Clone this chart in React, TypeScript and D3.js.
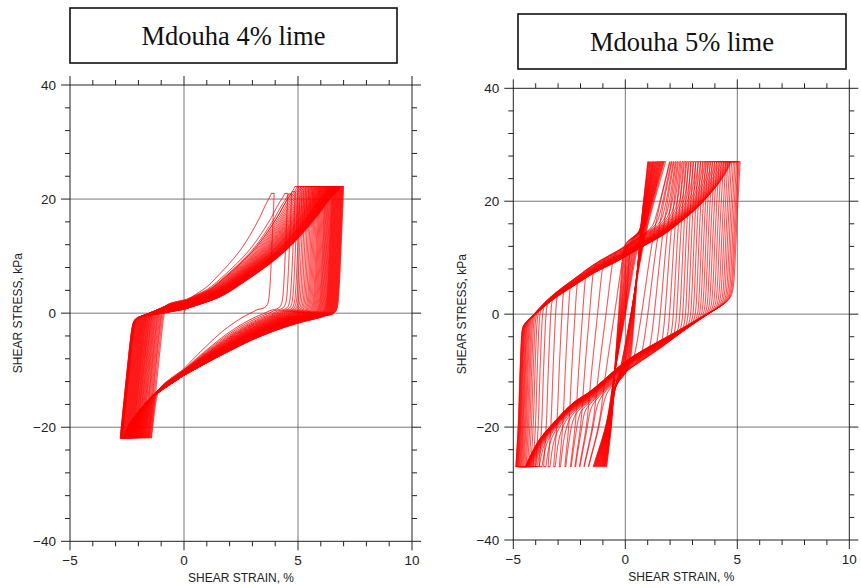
import React, { useMemo } from "react";
import * as d3 from "d3";

const W = 861;
const H = 588;

// ---------- shared axis definitions ----------
const xMajor = [-5, 0, 5, 10];
const yMajor = [-40, -20, 0, 20, 40];
const xMinor = [-4, -3, -2, -1, 1, 2, 3, 4, 6, 7, 8, 9];
const yMinor = [-36, -32, -28, -24, -16, -12, -8, -4, 4, 8, 12, 16, 24, 28, 32, 36];
const xGrid = [0, 5];
const yGrid = [-20, 0, 20];
const panelTitles = ["Mdouha 4% lime", "Mdouha 5% lime"];
const xTitle = "SHEAR STRAIN, %";
const yTitle = "SHEAR STRESS, kPa";

// ---------- Mdouha 4% lime: per-cycle peak strains (%) ----------
const rightPeak4 = [
  3.95, 4.55, 4.72, 4.88, 5.0, 5.1, 5.18, 5.26, 5.33, 5.4, 5.47, 5.53, 5.59, 5.65, 5.7, 5.75,
  5.8, 5.85, 5.9, 5.94, 5.98, 6.02, 6.06, 6.1, 6.14, 6.18, 6.21, 6.24, 6.27, 6.3, 6.33, 6.36,
  6.39, 6.42, 6.45, 6.48, 6.5, 6.52, 6.54, 6.56, 6.58, 6.6, 6.62, 6.64, 6.66, 6.68, 6.7, 6.72,
  6.74, 6.76, 6.78, 6.8, 6.82, 6.84, 6.86, 6.88, 6.9, 6.92, 6.94, 6.96, 6.98, 7.0,
];
const leftPeak4 = [
  -1.45, -1.5, -1.55, -1.58, -1.62, -1.66, -1.7, -1.73, -1.76, -1.8, -1.83, -1.86, -1.89, -1.92,
  -1.95, -1.98, -2.0, -2.03, -2.06, -2.08, -2.1, -2.13, -2.15, -2.17, -2.2, -2.22, -2.24, -2.26,
  -2.28, -2.3, -2.32, -2.34, -2.36, -2.38, -2.4, -2.42, -2.44, -2.46, -2.48, -2.5, -2.52, -2.54,
  -2.56, -2.58, -2.6, -2.62, -2.64, -2.66, -2.68, -2.7, -2.71, -2.72, -2.73, -2.74, -2.75, -2.76,
  -2.77, -2.78, -2.79, -2.8, -2.8, -2.81,
];
const firstPeakStress4 = [21.0, 21.0, 20.9, 21.3];
const steadyPeakStress4 = 22.2;
const troughStress4 = -21.9;
// branch shapes read from the loops (stress kPa -> strain %)
const upperNeck4 = [[-4, -7.0], [-2, -4.8], [-1, -3.6], [0, -2.4], [0.75, -1.1], [1.5, 0]];
const upperShape4 = [[0, 0], [0.1, 0.22], [0.21, 0.36], [0.47, 0.63], [0.75, 0.83], [0.9, 0.92], [1, 1]];
const lowerShape4 = [[-10.5, 1], [-6.5, 0.72], [-3.5, 0.48], [-1.2, 0.22], [0, 0]];
const lowerTail4 = [[-26, -3.6], [-22, -3.0], [-19.2, -2.5], [-14.6, -1.46], [-10.5, 0]];

// ---------- Mdouha 5% lime: per-cycle peak strains (%) ----------
const rightPeak5 = [
  0.98, 1.02, 1.07, 1.11, 1.16, 1.2, 1.24, 1.29, 1.33, 1.38, 1.42, 1.47, 1.51, 1.55, 1.6, 1.64,
  1.95, 2.05, 2.15, 2.25, 2.35, 2.46, 2.57, 2.68, 2.79, 2.9, 3.01, 3.12, 3.23, 3.34, 3.45, 3.56,
  3.66, 3.76, 3.86, 3.96, 4.06, 4.16, 4.26, 4.36, 4.46, 4.55, 4.64, 4.72, 4.8, 4.87, 4.94, 5.0,
  5.05, 5.1,
];
const leftPeak5 = [
  -0.84, -0.88, -0.92, -0.95, -0.99, -1.03, -1.07, -1.11, -1.15, -1.19, -1.23, -1.27, -1.31, -1.35,
  -1.39, -1.43, -1.65, -1.85, -2.05, -2.25, -2.45, -2.7, -2.95, -3.2, -3.45, -3.65, -3.85, -4.0,
  -4.12, -4.22, -4.3, -4.37, -4.43, -4.48, -4.53, -4.57, -4.61, -4.65, -4.68, -4.71, -4.74, -4.77,
  -4.79, -4.81, -4.83, -4.85, -4.87, -4.88, -4.89, -4.9,
];
const loopScale5 = [
  0.6, 0.67, 0.73, 0.8, 0.87, 0.93, 1.0, 1.07, 1.13, 1.2, 1.27, 1.33, 1.4, 1.47, 1.53, 1.6,
  1.3, 1.1, 0.9, 0.72, 0.6, 0.5, 0.44, 0.4, 0.36, 0.34, 0.32, 0.31, 0.3, 0.3, 0.3, 0.3,
  0.3, 0.3, 0.3, 0.3, 0.3, 0.3, 0.3, 0.3, 0.3, 0.3, 0.3, 0.3, 0.3, 0.3, 0.3, 0.3, 0.3, 0.3,
];
const peakStress5 = 27.0;
const troughStress5 = -27.0;
const centralBand5 = [[-27, -0.893], [-19, -0.52], [-10.5, -0.3], [0, 0], [11.4, 0.32], [16, 0.48], [27, 0.964]];
const upperBand5 = [
  [-8, -7.0], [-2, -5.3], [0.2, -4.4], [4, -3.2], [6.6, -2.2], [8.6, -1.4], [10.8, -0.3],
  [13.5, 0.9], [15.5, 1.8], [17.5, 2.5], [20, 3.3], [23, 4.1], [26.5, 5.0], [30, 5.9],
];
const lowerBand5 = [
  [-30, -5.5], [-26.5, -4.7], [-23.5, -4.1], [-21.1, -3.5], [-17, -2.4], [-15.2, -1.7],
  [-9.4, 0.1], [-4.2, 2.4], [-1.5, 3.6], [0.4, 4.5], [3, 5.6], [8, 8],
];

// ---------- helpers ----------
function monotone(pts: number[][]) {
  const p = [...pts].sort((a, b) => a[0] - b[0]);
  const n = p.length;
  const xs = p.map((d) => d[0]);
  const ys = p.map((d) => d[1]);
  const dx: number[] = [];
  const m: number[] = [];
  for (let i = 0; i < n - 1; i++) {
    dx[i] = xs[i + 1] - xs[i];
    m[i] = (ys[i + 1] - ys[i]) / dx[i];
  }
  const t: number[] = new Array(n);
  t[0] = m[0];
  t[n - 1] = m[n - 2];
  for (let i = 1; i < n - 1; i++) {
    if (m[i - 1] * m[i] <= 0) t[i] = 0;
    else t[i] = (3 * (dx[i - 1] + dx[i])) / ((2 * dx[i] + dx[i - 1]) / m[i - 1] + (dx[i] + 2 * dx[i - 1]) / m[i]);
  }
  return (x: number) => {
    if (x <= xs[0]) return ys[0] + t[0] * (x - xs[0]);
    if (x >= xs[n - 1]) return ys[n - 1] + t[n - 1] * (x - xs[n - 1]);
    let i = 0;
    while (i < n - 2 && x > xs[i + 1]) i++;
    const h = dx[i];
    const s = (x - xs[i]) / h;
    const s2 = s * s;
    const s3 = s2 * s;
    return (
      (2 * s3 - 3 * s2 + 1) * ys[i] +
      (s3 - 2 * s2 + s) * h * t[i] +
      (-2 * s3 + 3 * s2) * ys[i + 1] +
      (s3 - s2) * h * t[i + 1]
    );
  };
}
const smax = (a: number, b: number, k: number) => 0.5 * (a + b + Math.sqrt((a - b) * (a - b) + k * k));
const smin = (a: number, b: number, k: number) => 0.5 * (a + b - Math.sqrt((a - b) * (a - b) + k * k));
const clamp = (v: number, a: number, b: number) => Math.max(a, Math.min(b, v));

function range(a: number, b: number, step: number) {
  const out: number[] = [];
  const n = Math.max(2, Math.ceil(Math.abs(b - a) / step));
  for (let i = 0; i <= n; i++) out.push(a + ((b - a) * i) / n);
  return out;
}

function buildLoops4(): [number, number][] {
  const neck = monotone(upperNeck4);
  const g = monotone(upperShape4);
  const h = monotone(lowerShape4);
  const tail = monotone(lowerTail4);
  const aUp = 0.025;
  const aDn = 0.01;
  const Sb = troughStress4;
  const pts: [number, number][] = [];
  for (let k = 0; k < rightPeak4.length; k++) {
    const R = rightPeak4[k];
    const L = leftPeak4[k];
    const S = k < firstPeakStress4.length ? firstPeakStress4[k] : steadyPeakStress4;
    const Lprev = k === 0 ? aUp * Sb : leftPeak4[k - 1];
    const amp = R - L;
    const shiftUp = clamp(0.45 * (8 - amp), -1.1, 1.3);
    const shiftDn = clamp(0.25 * (8 - amp), -0.8, 0.6);
    const sn = 1.5 + shiftUp;
    const s0 = k === 0 ? 0 : Sb;
    for (const sg of range(s0, S, 0.12)) {
      const E = Lprev + aUp * (sg - Sb);
      const U = sg < sn ? neck(sg - shiftUp) : R * g((sg - sn) / (S - sn));
      const Dn = R - aDn * (S - sg);
      pts.push([smax(E, smin(U, Dn, 0.3), 0.6), sg]);
    }
    const x0 = R - 0.25;
    for (const sg of range(S, Sb, 0.12)) {
      const Dn = R - aDn * (S - sg);
      const q = sg - shiftDn;
      const D = q > 0 ? x0 + 3 * q : q > -10.5 ? x0 * (1 - h(q)) : tail(q);
      const E = L + aUp * (sg - Sb);
      pts.push([smax(smin(Dn, D, 1.1), E, 0.4), sg]);
    }
  }
  return pts;
}

function buildLoops5(): [number, number][] {
  const C = monotone(centralBand5);
  const U = monotone(upperBand5);
  const D = monotone(lowerBand5);
  const S = peakStress5;
  const Sb = troughStress5;
  const Cb = C(Sb);
  const Ct = C(S);
  const pts: [number, number][] = [];
  for (let k = 0; k < rightPeak5.length; k++) {
    const R = rightPeak5[k];
    const L = leftPeak5[k];
    const s = loopScale5[k];
    const sPrev = k === 0 ? s : loopScale5[k - 1];
    const Lprev = k === 0 ? -s * (C(0) - Cb) : leftPeak5[k - 1];
    const amp = R - L;
    const shift = clamp(0.35 * (6 - amp), -1.4, 1.4);
    const kWide = 0.1 + 0.1 * amp;
    const s0 = k === 0 ? 0 : Sb;
    for (const sg of range(s0, S, 0.12)) {
      const Eup = Lprev + sPrev * (C(sg) - Cb);
      const Edn = R + s * (C(sg) - Ct);
      pts.push([smax(Eup, smin(U(sg - shift), Edn, kWide), 0.3), sg]);
    }
    for (const sg of range(S, Sb, 0.12)) {
      const Edn = R + s * (C(sg) - Ct);
      const Eup = L + s * (C(sg) - Cb);
      pts.push([smax(smin(Edn, D(sg + shift), 0.5), Eup, kWide), sg]);
    }
  }
  return pts;
}

const fmt = (v: number) => (v < 0 ? "\u2212" + Math.abs(v) : String(v));

type PanelProps = {
  xs: d3.ScaleLinear<number, number>;
  ys: d3.ScaleLinear<number, number>;
  data: [number, number][];
  yTitleX: number;
  title: string;
  box: { x: number; y: number; w: number; h: number };
};

function Panel({ xs, ys, data, yTitleX, title, box }: PanelProps) {
  const [L, R] = xs.range();
  const [B, T] = ys.range();
  const line = d3
    .line<[number, number]>()
    .x((d) => xs(d[0]))
    .y((d) => ys(d[1]));
  const d = line(data) || "";
  const MJ = 9;
  const MN = 5;
  const tickColor = "#222";
  const labelFont = "'Liberation Sans', Arial, sans-serif";
  return (
    <g>
      <rect x={box.x} y={box.y} width={box.w} height={box.h} fill="#fff" stroke="#111" strokeWidth={1.6} />
      <text
        x={box.x + box.w / 2}
        y={box.y + box.h / 2 + 9}
        textAnchor="middle"
        fontFamily="'Liberation Serif', 'Times New Roman', serif"
        fontSize={26.5}
        fill="#111"
      >
        {title}
      </text>
      {xGrid.map((v) => (
        <line key={"gx" + v} x1={xs(v)} x2={xs(v)} y1={T} y2={B} stroke="#555" strokeWidth={0.8} />
      ))}
      {yGrid.map((v) => (
        <line key={"gy" + v} x1={L} x2={R} y1={ys(v)} y2={ys(v)} stroke="#555" strokeWidth={0.8} />
      ))}
      <path d={d} fill="none" stroke="#ff0000" strokeWidth={0.85} strokeLinejoin="round" />
      <rect x={L} y={T} width={R - L} height={B - T} fill="none" stroke={tickColor} strokeWidth={1} />
      {xMajor.map((v) => (
        <g key={"mx" + v}>
          <line x1={xs(v)} x2={xs(v)} y1={B} y2={B + MJ} stroke={tickColor} strokeWidth={1} />
          <line x1={xs(v)} x2={xs(v)} y1={T} y2={T - MJ} stroke={tickColor} strokeWidth={1} />
          <text x={xs(v)} y={B + 24} textAnchor="middle" fontFamily={labelFont} fontSize={13.5} fill="#222">
            {fmt(v)}
          </text>
        </g>
      ))}
      {yMajor.map((v) => (
        <g key={"my" + v}>
          <line x1={L - MJ} x2={L} y1={ys(v)} y2={ys(v)} stroke={tickColor} strokeWidth={1} />
          <line x1={R} x2={R + MJ} y1={ys(v)} y2={ys(v)} stroke={tickColor} strokeWidth={1} />
          <text x={L - 14} y={ys(v)} dy="0.36em" textAnchor="end" fontFamily={labelFont} fontSize={13.5} fill="#222">
            {fmt(v)}
          </text>
        </g>
      ))}
      {xMinor.map((v) => (
        <g key={"nx" + v}>
          <line x1={xs(v)} x2={xs(v)} y1={B} y2={B + MN} stroke={tickColor} strokeWidth={1} />
          <line x1={xs(v)} x2={xs(v)} y1={T} y2={T - MN} stroke={tickColor} strokeWidth={1} />
        </g>
      ))}
      {yMinor.map((v) => (
        <g key={"ny" + v}>
          <line x1={L - MN} x2={L} y1={ys(v)} y2={ys(v)} stroke={tickColor} strokeWidth={1} />
          <line x1={R} x2={R + MN} y1={ys(v)} y2={ys(v)} stroke={tickColor} strokeWidth={1} />
        </g>
      ))}
      <text x={(L + R) / 2} y={B + 41} textAnchor="middle" fontFamily={labelFont} fontSize={12} fill="#222">
        {xTitle}
      </text>
      <text
        transform={`translate(${yTitleX},${(T + B) / 2}) rotate(-90)`}
        textAnchor="middle"
        fontFamily={labelFont}
        fontSize={12}
        fill="#222"
      >
        {yTitle}
      </text>
    </g>
  );
}

export default function App() {
  const loops4 = useMemo(buildLoops4, []);
  const loops5 = useMemo(buildLoops5, []);
  const xs4 = d3.scaleLinear().domain([-5, 10]).range([70, 412]);
  const ys4 = d3.scaleLinear().domain([-40, 40]).range([541.3, 85]);
  const xs5 = d3.scaleLinear().domain([-5, 10]).range([513.3, 849.3]);
  const ys5 = d3.scaleLinear().domain([-40, 40]).range([540, 88.3]);
  return (
    <svg
      width={W}
      height={H}
      viewBox={`0 0 ${W} ${H}`}
      style={{ position: "absolute", left: 0, top: 0, background: "#fff" }}
    >
      <rect width={W} height={H} fill="#fff" />
      <Panel xs={xs4} ys={ys4} data={loops4} yTitleX={22} title={panelTitles[0]} box={{ x: 70, y: 8, w: 327, h: 55 }} />
      <Panel xs={xs5} ys={ys5} data={loops5} yTitleX={466} title={panelTitles[1]} box={{ x: 518, y: 14, w: 328, h: 55 }} />
    </svg>
  );
}
